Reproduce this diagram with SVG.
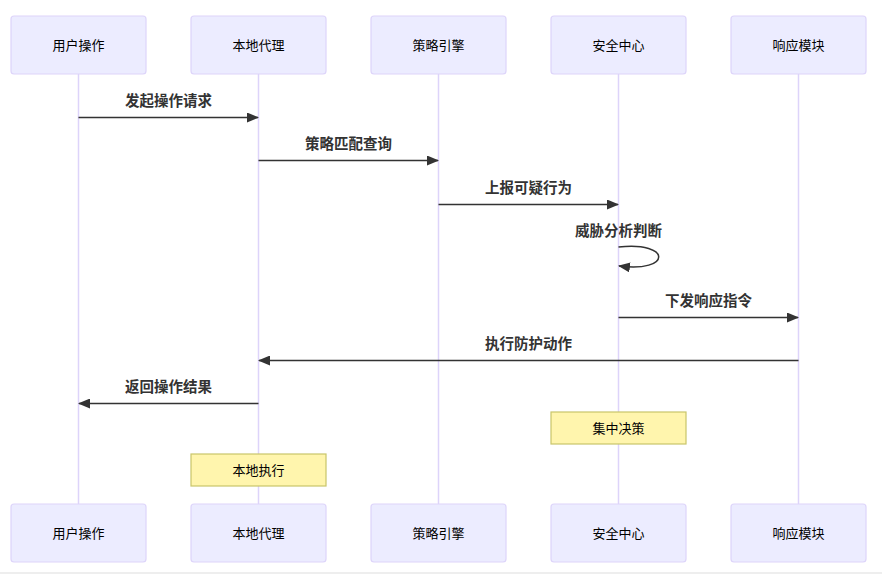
<svg xmlns="http://www.w3.org/2000/svg" width="882" height="574" viewBox="0 0 882 574">
<style>
.actor{fill:#ececff;stroke:#ddd4fa;stroke-width:1.2}
.atext{font-family:"Liberation Sans","Noto Sans CJK SC",sans-serif;font-size:13px;fill:#000;text-anchor:middle;dominant-baseline:central}
.life{stroke:#ddd4fa;stroke-width:1.5}
.msg{stroke:#333;stroke-width:1.5;fill:none}
.mtext{font-family:"Liberation Sans","Noto Sans CJK SC",sans-serif;font-size:14.5px;font-weight:bold;fill:#333;text-anchor:middle}
.note{fill:#fff5ad;stroke:#c9c56a;stroke-width:1.2}
.ntext{font-family:"Liberation Sans","Noto Sans CJK SC",sans-serif;font-size:13px;fill:#000;text-anchor:middle;dominant-baseline:central}
</style>
<defs>
<marker id="arrow" viewBox="0 0 12 10" refX="11" refY="5" markerWidth="12" markerHeight="10" markerUnits="userSpaceOnUse" orient="auto">
<path d="M0,0 L12,5 L0,10 z" fill="#333"/>
</marker>
</defs>
<rect x="0" y="0" width="882" height="574" fill="#fff"/>
<line x1="0" y1="573" x2="882" y2="573" stroke="#eeeeee" stroke-width="2"/>
<g id="lifelines">
<line class="life" x1="78.5" y1="74" x2="78.5" y2="504"/>
<line class="life" x1="258.5" y1="74" x2="258.5" y2="504"/>
<line class="life" x1="438.5" y1="74" x2="438.5" y2="504"/>
<line class="life" x1="618.5" y1="74" x2="618.5" y2="504"/>
<line class="life" x1="798.5" y1="74" x2="798.5" y2="504"/>
</g>
<g id="actor-user-top"><rect class="actor" x="11" y="16" width="135" height="58" rx="3"/><text class="atext" x="78.5" y="45">用户操作</text></g>
<g id="actor-agent-top"><rect class="actor" x="191" y="16" width="135" height="58" rx="3"/><text class="atext" x="258.5" y="45">本地代理</text></g>
<g id="actor-policy-top"><rect class="actor" x="371" y="16" width="135" height="58" rx="3"/><text class="atext" x="438.5" y="45">策略引擎</text></g>
<g id="actor-sec-top"><rect class="actor" x="551" y="16" width="135" height="58" rx="3"/><text class="atext" x="618.5" y="45">安全中心</text></g>
<g id="actor-resp-top"><rect class="actor" x="731" y="16" width="135" height="58" rx="3"/><text class="atext" x="798.5" y="45">响应模块</text></g>
<g id="actor-user-bottom"><rect class="actor" x="11" y="504" width="135" height="58" rx="3"/><text class="atext" x="78.5" y="533">用户操作</text></g>
<g id="actor-agent-bottom"><rect class="actor" x="191" y="504" width="135" height="58" rx="3"/><text class="atext" x="258.5" y="533">本地代理</text></g>
<g id="actor-policy-bottom"><rect class="actor" x="371" y="504" width="135" height="58" rx="3"/><text class="atext" x="438.5" y="533">策略引擎</text></g>
<g id="actor-sec-bottom"><rect class="actor" x="551" y="504" width="135" height="58" rx="3"/><text class="atext" x="618.5" y="533">安全中心</text></g>
<g id="actor-resp-bottom"><rect class="actor" x="731" y="504" width="135" height="58" rx="3"/><text class="atext" x="798.5" y="533">响应模块</text></g>
<g id="connectors">
<line class="msg" x1="78.5" y1="117.5" x2="258" y2="117.5" marker-end="url(#arrow)"/>
<text class="mtext" x="168.5" y="106">发起操作请求</text>
<line class="msg" x1="258.5" y1="160.5" x2="438" y2="160.5" marker-end="url(#arrow)"/>
<text class="mtext" x="348.5" y="149">策略匹配查询</text>
<line class="msg" x1="438.5" y1="204.5" x2="618" y2="204.5" marker-end="url(#arrow)"/>
<text class="mtext" x="528.5" y="193">上报可疑行为</text>
<path class="msg" d="M618.5,247 C672,241 672,273 619,266" marker-end="url(#arrow)"/>
<text class="mtext" x="618.5" y="236">威胁分析判断</text>
<line class="msg" x1="618.5" y1="317.5" x2="798" y2="317.5" marker-end="url(#arrow)"/>
<text class="mtext" x="708.5" y="306">下发响应指令</text>
<line class="msg" x1="798.5" y1="360.5" x2="259" y2="360.5" marker-end="url(#arrow)"/>
<text class="mtext" x="528.5" y="349">执行防护动作</text>
<line class="msg" x1="258.5" y1="403.5" x2="79" y2="403.5" marker-end="url(#arrow)"/>
<text class="mtext" x="168.5" y="392">返回操作结果</text>
</g>
<g id="note-central"><rect class="note" x="551" y="412" width="135" height="32"/><text class="ntext" x="618.5" y="428">集中决策</text></g>
<g id="note-local"><rect class="note" x="191" y="454" width="135" height="32"/><text class="ntext" x="258.5" y="470">本地执行</text></g>
</svg>
